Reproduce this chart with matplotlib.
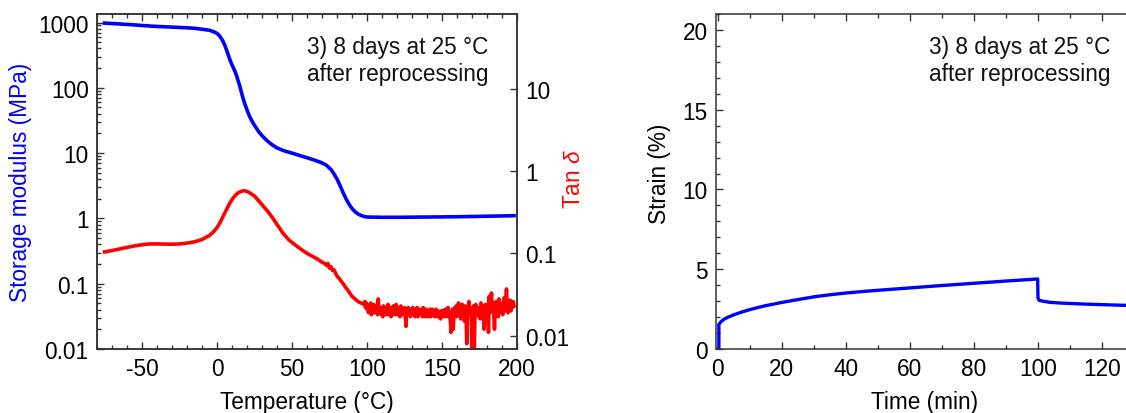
import numpy as np
import matplotlib
matplotlib.use("Agg")
import matplotlib.pyplot as plt
from matplotlib.ticker import MultipleLocator, FixedLocator, LogLocator, NullFormatter, NullLocator

# ---------------- data ----------------
temp_mod = [-75, -65, -55, -50, -40, -30, -20, -15, -10, -5, -2, 0, 1, 2, 3, 4, 5, 6, 7, 8, 9, 10, 11,
            12, 13, 14, 15, 16, 17, 18, 19, 20, 21, 22, 23, 24, 26, 28, 30, 33, 36, 40, 45, 50, 55, 60,
            65, 70, 73, 76, 78, 80, 82, 84, 86, 88, 90, 92, 94, 96, 98, 100, 110, 120, 140, 160, 180, 198]
storage_modulus = [980, 950, 920, 900, 870, 850, 830, 815, 790, 760, 720, 680, 650, 610, 565, 515, 460,
                   400, 345, 295, 255, 225, 200, 178, 155, 130, 110, 90, 74, 62, 53, 46, 40, 35.5, 32,
                   29, 24.5, 21, 18.5, 15.8, 13.8, 12.0, 10.8, 10.0, 9.2, 8.5, 7.8, 7.1, 6.5, 5.6, 4.8,
                   4.0, 3.2, 2.5, 2.0, 1.65, 1.42, 1.27, 1.17, 1.11, 1.07, 1.05, 1.04, 1.04, 1.05, 1.06,
                   1.08, 1.10]

temp_tan_smooth = [-75, -70, -65, -60, -55, -50, -45, -40, -30, -25, -20, -15, -10, -5, -2, 0, 2, 4, 6,
                   8, 10, 12, 14, 16, 18, 20, 22, 25, 28, 31, 34, 37, 40, 44, 48, 52, 56, 60, 64, 67,
                   70, 72, 73, 74, 75, 76, 77, 78, 80, 82, 84, 86, 88, 90, 92, 94, 96]
tan_delta_smooth = [0.104, 0.108, 0.113, 0.118, 0.123, 0.127, 0.130, 0.130, 0.129, 0.130, 0.133, 0.138,
                    0.147, 0.165, 0.185, 0.205, 0.235, 0.280, 0.330, 0.390, 0.450, 0.500, 0.540, 0.565,
                    0.575, 0.565, 0.540, 0.495, 0.430, 0.370, 0.320, 0.270, 0.225, 0.175, 0.145, 0.127,
                    0.112, 0.100, 0.091, 0.085, 0.078, 0.075, 0.071, 0.075, 0.066, 0.069, 0.062, 0.063,
                    0.053, 0.048, 0.043, 0.038, 0.034, 0.030, 0.028, 0.026, 0.025]

# tan delta above 98 degC, read every 0.5 degC (noisy plateau)
temp_tan_noisy = np.arange(98, 198.5, 0.5)
tan_delta_noisy = [
    0.024, 0.026, 0.022, 0.025,
    0.021, 0.024, 0.019, 0.023, 0.020, 0.025, 0.018, 0.022, 0.020, 0.024,
    0.019, 0.022, 0.020, 0.023, 0.018, 0.028, 0.021, 0.019, 0.022, 0.018,
    0.021, 0.017, 0.023, 0.019, 0.022, 0.018, 0.021, 0.020, 0.024, 0.018,
    0.020, 0.022, 0.017, 0.021, 0.019, 0.023, 0.018, 0.021, 0.019, 0.024,
    0.018, 0.022, 0.019, 0.021, 0.017, 0.023, 0.019, 0.021, 0.018, 0.020,
    0.022, 0.018, 0.013, 0.020, 0.018, 0.022, 0.019, 0.021, 0.017, 0.020,
    0.019, 0.022, 0.018, 0.020, 0.017, 0.021, 0.019, 0.022, 0.017, 0.020,
    0.018, 0.021, 0.019, 0.020, 0.017, 0.022, 0.018, 0.020, 0.017, 0.021,
    0.019, 0.017, 0.020, 0.018, 0.021, 0.017, 0.019, 0.021, 0.018, 0.020,
    0.017, 0.019, 0.021, 0.018, 0.017, 0.020, 0.018, 0.019, 0.016, 0.020,
    0.018, 0.020, 0.017, 0.019, 0.021, 0.017, 0.020, 0.018, 0.022, 0.017,
    0.019, 0.016, 0.011, 0.018, 0.021, 0.012, 0.019, 0.022, 0.018, 0.023,
    0.017, 0.021, 0.025, 0.018, 0.022, 0.016, 0.020, 0.024, 0.019, 0.021,
    0.015, 0.023, 0.019, 0.008, 0.018, 0.022, 0.026, 0.019, 0.021, 0.018,
    0.007, 0.020, 0.023, 0.006, 0.019, 0.024, 0.018, 0.022, 0.020, 0.017,
    0.022, 0.016, 0.025, 0.020, 0.018, 0.023, 0.012, 0.019, 0.024, 0.021,
    0.023, 0.018, 0.011, 0.030, 0.019, 0.024, 0.033, 0.020, 0.025, 0.018,
    0.012, 0.022, 0.026, 0.019, 0.024, 0.017, 0.028, 0.021, 0.024, 0.019,
    0.025, 0.018, 0.022, 0.029, 0.020, 0.026, 0.037, 0.022, 0.019, 0.026,
    0.021, 0.027, 0.020, 0.025, 0.022, 0.026, 0.023]

time_min = [0.3, 0.3, 1, 2, 3, 5, 7.5, 10, 12.5, 15, 17.5, 20, 25, 30, 35, 40, 45, 50, 60, 70, 80, 90,
            99.9, 100, 100.4, 101.5, 103.5, 107, 114, 120, 130]
strain = [0, 1.55, 1.72, 1.88, 1.98, 2.15, 2.32, 2.47, 2.60, 2.72, 2.82, 2.92, 3.10, 3.27, 3.40, 3.51,
          3.60, 3.68, 3.83, 3.98, 4.12, 4.26, 4.39, 3.2, 3.05, 3.0, 2.93, 2.88, 2.82, 2.78, 2.72]

annotation = "3) 8 days at 25 \u00b0C\nafter reprocessing"

# ---------------- style ----------------
plt.rcParams['font.family'] = ['Liberation Sans', 'DejaVu Sans']
plt.rcParams['mathtext.fontset'] = 'custom'
plt.rcParams['mathtext.it'] = 'Liberation Sans:italic'
plt.rcParams['axes.unicode_minus'] = False
FS = 16.3
SPINE = '#333333'

fig = plt.figure(figsize=(11.26, 4.14), dpi=100)
W, H = 1126, 414

def pos(l, r, t, b):
    return [l / W, 1 - b / H, (r - l) / W, (b - t) / H]

def style(ax):
    for s in ax.spines.values():
        s.set_color(SPINE)
        s.set_linewidth(1.1)
    ax.tick_params(which='both', direction='in', color=SPINE, width=1.0,
                   labelsize=FS, pad=6)
    ax.tick_params(which='major', length=5)
    ax.tick_params(which='minor', length=2.6)

# ---------------- left: DMA ----------------
ax1 = fig.add_axes(pos(97, 517, 15, 350))
ax2 = ax1.twinx()
ax1.plot(temp_mod, storage_modulus, color='#0000ff', lw=2.6, solid_joinstyle='round')
temp_tan = list(temp_tan_smooth) + list(temp_tan_noisy)
tan_delta = list(tan_delta_smooth) + list(tan_delta_noisy)
ax2.plot(temp_tan, tan_delta, color='#ff0000', lw=2.6, solid_joinstyle='round')

ax1.set_yscale('log')
ax2.set_yscale('log')
ax1.set_xlim(-80, 200)
ax1.set_ylim(0.01, 1350)
ax2.set_ylim(0.0069, 80.3)

style(ax1)
style(ax2)
ax1.xaxis.set_major_locator(FixedLocator([-50, 0, 50, 100, 150, 200]))
ax1.xaxis.set_minor_locator(MultipleLocator(10))
ax1.tick_params(axis='x', top=True, which='both')
ax1.tick_params(axis='y', right=False, which='both')
ax1.yaxis.set_major_locator(FixedLocator([0.01, 0.1, 1, 10, 100, 1000]))
ax1.yaxis.set_major_formatter(plt.FixedFormatter(['0.01', '0.1', '1', '10', '100', '1000']))
ax1.yaxis.set_minor_locator(LogLocator(base=10, subs=np.arange(2, 10)))
ax1.yaxis.set_minor_formatter(NullFormatter())
ax2.yaxis.set_major_locator(FixedLocator([0.01, 0.1, 1, 10]))
ax2.yaxis.set_major_formatter(plt.FixedFormatter(['0.01', '0.1', '1', '10']))
ax2.yaxis.set_minor_locator(NullLocator())
ax2.tick_params(axis='y', left=False, which='both')

ax1.set_xlabel('Temperature (\u00b0C)', fontsize=FS)
ax1.xaxis.set_label_coords(0.5, -0.122)
ax1.set_ylabel('Storage modulus (MPa)', fontsize=FS, color='#0000ff')
ax1.yaxis.set_label_coords(-0.155, 0.5)
ax2.set_ylabel('Tan $\\mathit{\\delta}$', fontsize=FS, color='#ff0000')
ax2.yaxis.set_label_coords(1.108, 0.51)

ax1.text(0.717, 0.862, annotation, transform=ax1.transAxes, ha='center', va='center',
         fontsize=FS, linespacing=1.2, color='#111111')

# ---------------- right: creep ----------------
ax3 = fig.add_axes(pos(716, 1134, 15, 350))
ax3.plot(time_min, strain, color='#0000ff', lw=2.4, solid_joinstyle='round')
ax3.set_xlim(-0.6, 130)
ax3.set_ylim(0, 21)
style(ax3)
ax3.xaxis.set_major_locator(MultipleLocator(20))
ax3.xaxis.set_minor_locator(MultipleLocator(10))
ax3.yaxis.set_major_locator(MultipleLocator(5))
ax3.yaxis.set_minor_locator(MultipleLocator(1))
ax3.tick_params(axis='x', top=True, which='both')
ax3.tick_params(axis='y', right=True, which='both')
ax3.set_xlabel('Time (min)', fontsize=FS)
ax3.xaxis.set_label_coords(0.5, -0.122)
ax3.set_ylabel('Strain (%)', fontsize=FS)
ax3.yaxis.set_label_coords(-0.107, 0.527)
ax3.text(0.727, 0.862, annotation, transform=ax3.transAxes, ha='center', va='center',
         fontsize=FS, linespacing=1.2, color='#111111')

fig.savefig('out.png', dpi=100)
